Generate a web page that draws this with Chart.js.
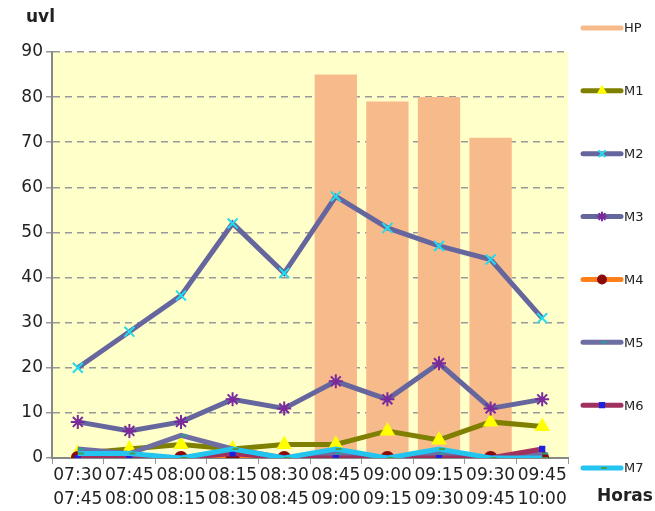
<!DOCTYPE html>
<html><head><meta charset="utf-8">
<script src="https://cdn.jsdelivr.net/npm/chart.js@4/dist/chart.umd.min.js"></script>
<style>html,body{margin:0;padding:0;background:#fff}#wrap{width:655px;height:511px}</style>
</head><body><div id="wrap"><canvas id="c" width="655" height="511"></canvas></div>
<script>
const categories = [["07:30","07:45"],["07:45","08:00"],["08:00","08:15"],["08:15","08:30"],["08:30","08:45"],["08:45","09:00"],["09:00","09:15"],["09:15","09:30"],["09:30","09:45"],["09:45","10:00"]];
const HP = [0,0,0,0,0,85,79,80,71,0];
const M1 = [1,2,3,2,3,3,6,4,8,7];
const M2 = [20,28,36,52,41,58,51,47,44,31];
const M3 = [8,6,8,13,11,17,13,21,11,13];
const M4 = [0,0,0,0,0,0,0,0,0,0];
const M5 = [2,1,5,2,0,1,0,1,0,1];
const M6 = [0,0,0,1,0,0,0,0,0,2];
const M7 = [1,1,0,2,0,2,0,2,0,0];
const yTicks = [0,10,20,30,40,50,60,70,80,90];

function line(label, data, color, ps, pc, pr, order){
  return {type:'line', label, data, borderColor:color, backgroundColor:pc, borderWidth:5,
    pointStyle:ps, pointRadius:pr, pointBackgroundColor:pc, pointBorderColor:pc, pointBorderWidth:2,
    tension:0, order};
}
const datasets = [
  {type:'bar', label:'HP', data:HP, backgroundColor:'#F7BA8A', borderWidth:0, barPercentage:0.82, categoryPercentage:1, order:20},
  line('M1', M1, '#7F7F00', 'triangle', '#FFFF00', 7, 8),
  line('M2', M2, '#66669F', 'crossRot', '#22DDEE', 7, 7),
  line('M3', M3, '#66669F', 'star', '#7A2A9A', 7, 6),
  line('M4', M4, '#FF7F1A', 'circle', '#8B0A0A', 6, 5),
  line('M5', M5, '#6E6EA2', 'dash', '#2E9A9A', 6, 4),
  line('M6', M6, '#A0305E', 'rect', '#2020E0', 3, 3),
  line('M7', M7, '#22C4F0', 'dash', '#4C9A4C', 6, 2),
];

const bgPlugin = {id:'bg', beforeDraw(chart){
  const {ctx, chartArea:a} = chart;
  ctx.save(); ctx.fillStyle='#FFFFCA'; ctx.fillRect(a.left, a.top, a.right-a.left, a.bottom-a.top); ctx.restore();
}};
const legendPlugin = {id:'leg', afterDraw(chart){
  const ctx = chart.ctx;
  ctx.save();
  chart.data.datasets.forEach((ds,i)=>{
    const y = 28 + i*62.86;
    ctx.lineCap='round';
    ctx.strokeStyle = ds.type==='bar' ? ds.backgroundColor : ds.borderColor;
    ctx.lineWidth = 5;
    ctx.beginPath(); ctx.moveTo(583,y); ctx.lineTo(621,y); ctx.stroke();
    if(ds.type!=='bar'){
      ctx.fillStyle=ds.pointBackgroundColor; ctx.strokeStyle=ds.pointBorderColor;
      ctx.lineWidth=2;
      Chart.helpers.drawPoint(ctx,{pointStyle:ds.pointStyle, radius:Math.min(ds.pointRadius,4), borderWidth:2, rotation:0}, 602, y);
    }
    ctx.fillStyle='#222'; ctx.font='13px "DejaVu Sans"'; ctx.textBaseline='middle'; ctx.textAlign='left';
    ctx.fillText(ds.label, 624, y+1);
  });
  ctx.font='bold 17px "DejaVu Sans"'; ctx.fillStyle='#222'; ctx.textBaseline='middle';
  ctx.textAlign='left'; ctx.fillText('uvl', 26, 18);
  ctx.fillText('Horas', 597, 497);
  ctx.restore();
}};

new Chart(document.getElementById('c'), {
  data:{labels:categories, datasets},
  options:{
    responsive:false, animation:false,
    layout:{padding:{top:52, right:87, left:0, bottom:0}},
    plugins:{legend:{display:false}, tooltip:{enabled:false}},
    scales:{
      x:{offset:true,
        grid:{drawOnChartArea:false, drawTicks:true, tickLength:6, offset:true, color:'#999', lineWidth:1},
        border:{color:'#888', width:2},
        ticks:{autoSkip:false, maxRotation:0, minRotation:0, padding:0, color:'#222', font:{family:'DejaVu Sans', size:17, lineHeight:1.4}},
        afterFit(s){s.height=53;}
      },
      y:{min:0, max:90,
        afterBuildTicks(s){s.ticks = yTicks.map(v=>({value:v}));},
        grid:{color:'#999', lineWidth:1.5, tickLength:6, drawTicks:true},
        border:{color:'#888', width:2, dash:[7,5]},
        ticks:{padding:3, color:'#222', font:{family:'DejaVu Sans', size:17}},
        afterFit(s){s.width=52;}
      }
    }
  },
  plugins:[bgPlugin, legendPlugin]
});
</script></body></html>
